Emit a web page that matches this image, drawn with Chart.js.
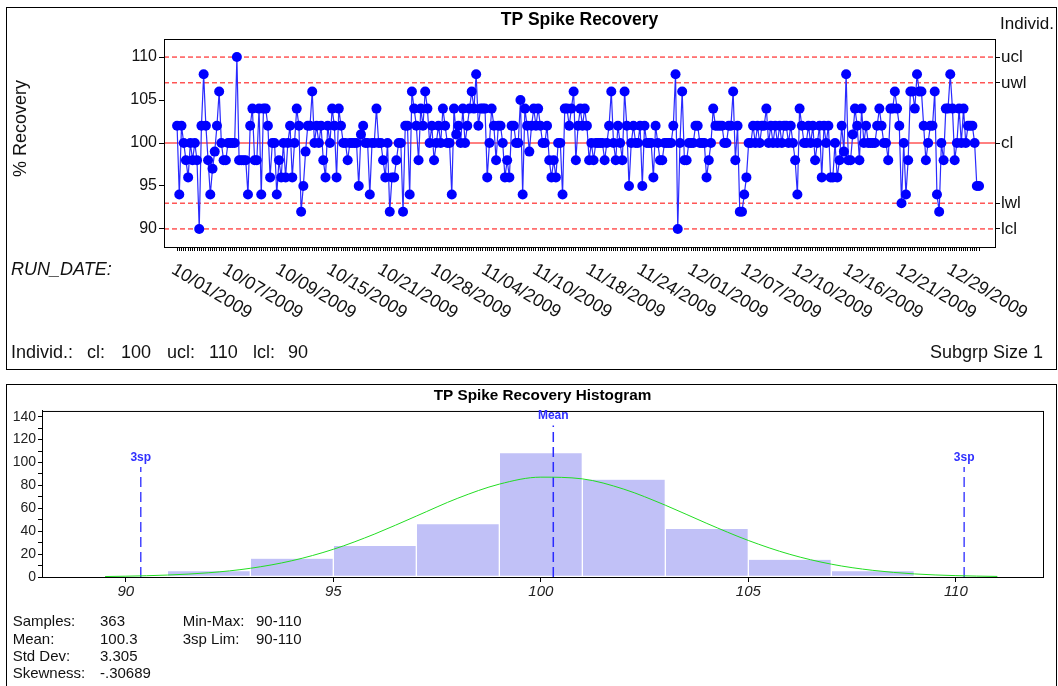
<!DOCTYPE html>
<html>
<head>
<meta charset="utf-8">
<script src="https://cdn.jsdelivr.net/npm/chart.js@4.4.0/dist/chart.umd.min.js"></script>
<style>
body { margin: 0; background: #fff; }
#pagina { position: relative; width: 1058px; height: 686px; overflow: hidden; font-family: "Liberation Sans", Arial, sans-serif; color: #111; }
.painel { position: absolute; border: 1px solid #000; box-sizing: border-box; }
.txt { position: absolute; white-space: pre; line-height: 1; }
canvas { position: absolute; }
</style>
</head>
<body>
<div id="pagina">
  <div class="painel" style="left:6px;top:7px;width:1051px;height:363px"></div>
  <canvas id="graficoControle" width="1049" height="361" style="left:7px;top:8px"></canvas>
  <div class="txt" style="left:1000px;top:14.6px;font-size:17px">Individ.</div>
  <div class="txt" style="left:11px;top:259.5px;font-size:18px;font-style:italic">RUN_DATE:</div>
  <div class="txt" style="left:11px;top:342.8px;font-size:18px">Individ.:</div>
  <div class="txt" style="left:87px;top:342.8px;font-size:18px">cl:</div>
  <div class="txt" style="left:121px;top:342.8px;font-size:18px">100</div>
  <div class="txt" style="left:167px;top:342.8px;font-size:18px">ucl:</div>
  <div class="txt" style="left:209px;top:342.8px;font-size:18px">110</div>
  <div class="txt" style="left:253px;top:342.8px;font-size:18px">lcl:</div>
  <div class="txt" style="left:288px;top:342.8px;font-size:18px">90</div>
  <div class="txt" style="right:15px;top:342.8px;font-size:18px">Subgrp Size 1</div>

  <div class="painel" style="left:6px;top:384px;width:1051px;height:320px"></div>
  <canvas id="graficoHistograma" width="1049" height="301" style="left:7px;top:385px"></canvas>
  <div class="txt" style="left:12.7px;top:613.3px;font-size:15px">Samples:</div>
  <div class="txt" style="left:100px;top:613.3px;font-size:15px">363</div>
  <div class="txt" style="left:182.7px;top:613.3px;font-size:15px">Min-Max:</div>
  <div class="txt" style="left:256px;top:613.3px;font-size:15px">90-110</div>
  <div class="txt" style="left:12.7px;top:630.8px;font-size:15px">Mean:</div>
  <div class="txt" style="left:100px;top:630.8px;font-size:15px">100.3</div>
  <div class="txt" style="left:182.7px;top:630.8px;font-size:15px">3sp Lim:</div>
  <div class="txt" style="left:256px;top:630.8px;font-size:15px">90-110</div>
  <div class="txt" style="left:12.7px;top:648.3px;font-size:15px">Std Dev:</div>
  <div class="txt" style="left:100px;top:648.3px;font-size:15px">3.305</div>
  <div class="txt" style="left:12.7px;top:665.3px;font-size:15px">Skewness:</div>
  <div class="txt" style="left:100px;top:665.3px;font-size:15px">-.30689</div>
</div>

<script>
const FONTE = '"Liberation Sans", Arial, sans-serif';
Chart.defaults.font.family = FONTE;
Chart.defaults.color = '#111';

// % Recovery por amostra (363 amostras)
const recuperacao = [
    102, 94, 102, 100, 98, 96, 100, 98, 100, 98,
    90, 102, 108, 102, 98, 94, 97, 99, 102, 106,
    100, 98, 98, 100, 100, 100, 100, 110, 98, 98,
    98, 98, 94, 102, 104, 98, 98, 104, 94, 104,
    104, 102, 96, 100, 100, 94, 98, 96, 100, 96,
    100, 102, 96, 100, 104, 102, 92, 95, 99, 102,
    102, 106, 100, 102, 100, 102, 98, 96, 102, 100,
    104, 102, 96, 104, 102, 100, 100, 98, 100, 100,
    100, 100, 95, 101, 102, 100, 100, 94, 100, 100,
    104, 100, 100, 98, 96, 100, 92,
    96, 96, 98, 100, 100, 92, 102, 102, 94, 106,
    104, 102, 98, 104, 102, 106, 104, 100, 102, 98,
    100, 102, 100, 104, 102, 100, 100, 94, 104, 101,
    102, 100, 104, 100, 102, 104, 106, 104, 108, 102,
    104, 104, 104, 96, 100, 104, 102, 98, 102, 102,
    100, 96, 98, 96, 102, 102, 100, 100, 105, 94,
    104, 102, 99, 102, 104, 102, 104, 102, 100, 100,
    102, 98, 96, 98, 96, 100, 100, 94, 104, 104,
    102, 104, 106, 98, 102, 104, 102, 104, 102, 98,
    100, 98, 100, 100,
    100, 100, 98, 100, 102, 106, 100, 98, 102, 100,
    98, 106, 102, 95, 100, 102, 100, 100, 102, 95,
    102, 100, 100, 100, 96, 102, 100, 98, 98, 100,
    100, 100, 100, 102, 108, 90, 100, 106, 98, 98,
    100, 100, 100, 102, 102, 100, 100, 100, 96, 98,
    100, 104, 102, 102, 102, 102, 100, 100, 102, 102,
    106, 98, 102, 92, 92, 94, 96, 100, 100, 102,
    100, 102, 100, 102, 102, 104, 100, 102, 100, 102,
    100, 102, 100, 102, 102, 100, 102, 100, 98, 94,
    104, 102, 100, 100, 102,
    100, 102, 98, 100, 102, 96, 102, 100, 102, 96,
    96, 100, 96, 98, 102, 99, 108, 98, 98, 101,
    104, 102, 98, 104, 100, 102, 100, 100, 100, 100,
    102, 104, 102, 100, 100, 98, 104, 104, 106, 104,
    102, 93, 100, 94, 98, 106, 106, 104, 108, 106,
    106, 102, 98, 100, 102, 102, 106, 94, 92, 100,
    98, 104, 104, 108, 104, 98, 100, 104, 100, 104,
    100, 102, 102, 102, 100, 95, 95
];

// datas marcadas no eixo RUN_DATE e a amostra onde cada uma cai
const datasRotulo = ['10/01/2009', '10/07/2009', '10/09/2009', '10/15/2009', '10/21/2009', '10/28/2009',
    '11/04/2009', '11/10/2009', '11/18/2009', '11/24/2009', '12/01/2009', '12/07/2009',
    '12/10/2009', '12/16/2009', '12/21/2009', '12/29/2009'];
const indiceDatas = [0, 23, 47, 70, 93, 117, 140, 163, 187, 210, 233, 257, 280, 303, 327, 350];

const ticksRecuperacao = [90, 95, 100, 105, 110];
const limites = [110, 107, 100, 93, 90];
const nomesLimites = ['ucl', 'uwl', 'cl', 'lwl', 'lcl'];

// histograma
const centrosClasse = [92, 94, 96, 98, 100, 102, 104, 106, 108];
const contagens = [5, 16, 27, 46, 108, 85, 42, 15, 5];
const curvaX = [89.5, 90, 91, 92, 93, 94, 95, 96, 97, 98, 99, 100, 101, 102, 103, 104, 105, 106, 107, 108, 109, 110, 111];
const curvaY = [0.4, 0.7, 1.7, 3.7, 7.6, 14.2, 24.2, 37.6, 53.2, 68.8, 81.1, 87.2, 85.7, 76.7, 62.7, 46.8, 31.9, 19.8, 11.2, 5.8, 2.7, 1.2, 0.5];
const media = 100.3;
const limites3sp = [90.36, 110.2];
const ticksHistX = [90, 95, 100, 105, 110];

const xMinCtrl = -5.9, xMaxCtrl = 369.2;

const molduraControle = {
    id: 'molduraControle',
    afterDraw(chart) {
        const { ctx, chartArea: a, scales: { x } } = chart;
        ctx.save();
        ctx.strokeStyle = '#000';
        ctx.lineWidth = 1;
        ctx.strokeRect(a.left + 0.5, a.top + 0.5, a.right - a.left, a.bottom - a.top);

        ctx.fillStyle = '#111';
        ctx.font = '18px ' + FONTE;
        ctx.save();
        ctx.translate(19, a.top + 89.5);
        ctx.rotate(-Math.PI / 2);
        ctx.textAlign = 'center';
        ctx.textBaseline = 'alphabetic';
        ctx.fillText('% Recovery', 0, 0);
        ctx.restore();

        ctx.textAlign = 'left';
        ctx.textBaseline = 'alphabetic';
        indiceDatas.forEach((idx, k) => {
            const px = x.getPixelForValue(idx);
            ctx.save();
            ctx.translate(px, a.bottom + 14.5);
            ctx.rotate(31 * Math.PI / 180);
            ctx.fillText(datasRotulo[k], 0, 12.9);
            ctx.restore();
        });
        ctx.restore();
    }
};

const ctxControle = document.getElementById('graficoControle').getContext('2d');
new Chart(ctxControle, {
    type: 'line',
    data: {
        datasets: [{
            label: 'TP Spike Recovery',
            data: recuperacao.map((v, i) => ({ x: i, y: v })),
            borderColor: '#2a2aff',
            borderWidth: 1.2,
            pointRadius: 5,
            pointHoverRadius: 5,
            pointBackgroundColor: '#0000ff',
            pointBorderWidth: 0,
            tension: 0,
            order: 0
        }].concat(limites.map(v => ({
            label: nomesLimites[limites.indexOf(v)],
            data: [{ x: xMinCtrl, y: v }, { x: xMaxCtrl, y: v }],
            borderColor: '#ff0000',
            borderWidth: 1,
            borderDash: v === 100 ? [] : [5, 3],
            pointRadius: 0,
            order: 1
        })))
    },
    options: {
        animation: false,
        responsive: false,
        devicePixelRatio: 1,
        layout: { padding: 0, autoPadding: false },
        plugins: {
            legend: { display: false },
            tooltip: { enabled: false },
            title: {
                display: true,
                text: 'TP Spike Recovery',
                fullSize: false,
                color: '#000',
                font: { size: 17.5, weight: 'bold' },
                padding: { top: 1.5, bottom: 8.5 }
            }
        },
        scales: {
            x: {
                type: 'linear',
                min: xMinCtrl,
                max: xMaxCtrl,
                afterBuildTicks: s => { s.ticks = recuperacao.map((v, i) => ({ value: i })); },
                ticks: { display: false, autoSkip: false },
                grid: { drawOnChartArea: false, tickLength: 4, color: '#000' },
                border: { color: '#000' },
                afterFit: s => { s.height = 122; }
            },
            y: {
                position: 'left',
                min: 87.9,
                max: 112.1,
                afterBuildTicks: s => { s.ticks = ticksRecuperacao.map(v => ({ value: v })); },
                ticks: { font: { size: 16 }, padding: 2, autoSkip: false },
                grid: { drawOnChartArea: false, tickLength: 5, color: '#000' },
                border: { color: '#000' },
                afterFit: s => { s.width = 157; }
            },
            y2: {
                position: 'right',
                min: 87.9,
                max: 112.1,
                afterBuildTicks: s => { s.ticks = limites.map(v => ({ value: v })); },
                ticks: {
                    font: { size: 17 },
                    padding: 1,
                    autoSkip: false,
                    callback: v => nomesLimites[limites.indexOf(v)]
                },
                grid: { drawOnChartArea: false, tickLength: 5, color: '#000' },
                border: { color: '#000' },
                afterFit: s => { s.width = 61; }
            }
        }
    },
    plugins: [molduraControle]
});

const molduraHistograma = {
    id: 'molduraHistograma',
    afterDraw(chart) {
        const { ctx, chartArea: a, scales: { x, y } } = chart;
        ctx.save();
        ctx.strokeStyle = '#000';
        ctx.lineWidth = 1;
        ctx.strokeRect(a.left + 0.5, a.top + 0.5, a.right - a.left, a.bottom - a.top);

        ctx.fillStyle = '#3030ff';
        ctx.font = 'bold 12px ' + FONTE;
        ctx.textAlign = 'center';
        ctx.textBaseline = 'middle';
        ctx.fillText('Mean', x.getPixelForValue(media), y.getPixelForValue(132.4) - 9.5);
        limites3sp.forEach(v => {
            ctx.fillText('3sp', x.getPixelForValue(v), y.getPixelForValue(96) - 9);
        });
        ctx.restore();
    }
};

const linhaVertical = (valor, topo, cor) => ({
    type: 'line',
    data: [{ x: valor, y: 0 }, { x: valor, y: topo }],
    borderColor: cor,
    borderWidth: 1.5,
    borderDash: [10, 5],
    pointRadius: 0,
    order: 1
});

const ctxHist = document.getElementById('graficoHistograma').getContext('2d');
new Chart(ctxHist, {
    type: 'bar',
    data: {
        datasets: [
            {
                type: 'line',
                label: 'Normal',
                data: curvaX.map((v, i) => ({ x: v, y: curvaY[i] })),
                borderColor: '#22dd22',
                borderWidth: 1,
                pointRadius: 0,
                cubicInterpolationMode: 'monotone',
                order: 0
            },
            linhaVertical(media, 132.4, '#2a2aff'),
            linhaVertical(limites3sp[0], 96, '#4646ff'),
            linhaVertical(limites3sp[1], 96, '#4646ff'),
            {
                type: 'bar',
                label: 'Contagem',
                data: centrosClasse.map((c, i) => ({ x: c, y: contagens[i] })),
                backgroundColor: '#c1c1f7',
                borderColor: '#ffffff',
                borderWidth: { left: 1, right: 1, top: 0, bottom: 1 },
                borderSkipped: false,
                barPercentage: 1,
                categoryPercentage: 1,
                order: 2
            }
        ]
    },
    options: {
        animation: false,
        responsive: false,
        devicePixelRatio: 1,
        layout: { padding: { left: 0, top: 0, right: 13, bottom: 0 }, autoPadding: false },
        plugins: {
            legend: { display: false },
            tooltip: { enabled: false },
            title: {
                display: true,
                text: 'TP Spike Recovery Histogram',
                fullSize: false,
                color: '#000',
                font: { size: 15.3, weight: 'bold' },
                padding: { top: 1.8, bottom: 5.8 }
            }
        },
        scales: {
            x: {
                type: 'linear',
                offset: false,
                min: 87.98,
                max: 112.1,
                afterBuildTicks: s => { s.ticks = ticksHistX.map(v => ({ value: v })); },
                ticks: { font: { size: 15, style: 'italic' }, color: '#222', padding: 1, autoSkip: false, maxRotation: 0 },
                grid: { drawOnChartArea: false, offset: false, tickLength: 5, color: '#000' },
                border: { color: '#000' },
                afterFit: s => { s.height = 109; }
            },
            y: {
                min: 0,
                max: 145,
                afterBuildTicks: s => {
                    const t = [];
                    for (let v = 0; v <= 140; v += 10) t.push({ value: v });
                    s.ticks = t;
                },
                ticks: { font: { size: 14 }, color: '#222', padding: 2, autoSkip: false, callback: v => (v % 20 === 0 ? v : '') },
                grid: { drawOnChartArea: false, tickLength: 4, color: '#000' },
                border: { color: '#000' },
                afterFit: s => { s.width = 35; }
            }
        }
    },
    plugins: [molduraHistograma]
});
</script>
</body>
</html>
